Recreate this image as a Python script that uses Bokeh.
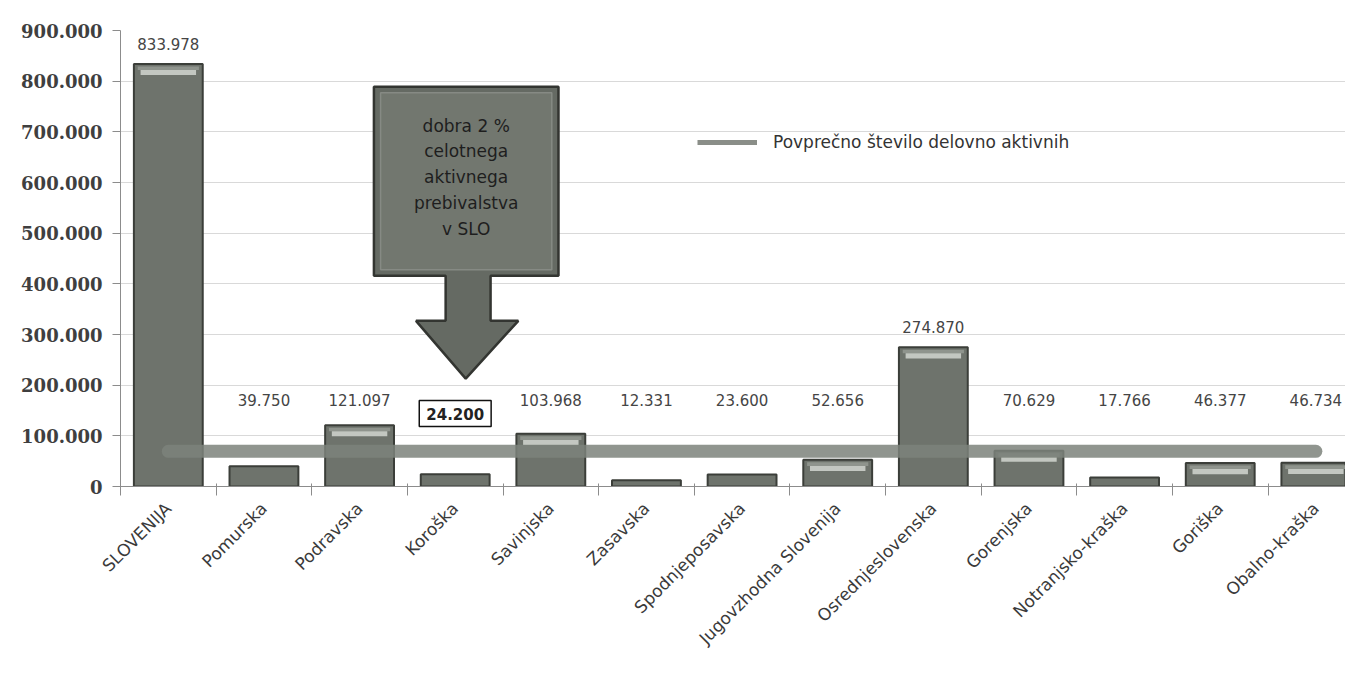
from bokeh.plotting import figure
from bokeh.models import (Range1d, FixedTicker, CustomJSTickFormatter, Legend, LegendItem,
                          Label, ColumnDataSource)
from bokeh.embed import file_html
from bokeh.resources import INLINE
from bokeh.core.properties import value
import math

# ---------------- data ----------------
regions = ["SLOVENIJA", "Pomurska", "Podravska", "Koroška", "Savinjska", "Zasavska",
           "Spodnjeposavska", "Jugovzhodna Slovenija", "Osrednjeslovenska", "Gorenjska",
           "Notranjsko-kraška", "Goriška", "Obalno-kraška"]
active = [833978, 39750, 121097, 24200, 103968, 12331, 23600, 52656, 274870, 70629,
          17766, 46377, 46734]
y_ticks = [0, 100000, 200000, 300000, 400000, 500000, 600000, 700000, 800000, 900000]
legend_text = "Povprečno število delovno aktivnih"
callout_lines = ["dobra 2 %", "celotnega", "aktivnega", "prebivalstva", "v SLO"]
highlight_region = "Koroška"

# ---------------- derived ----------------
n = len(regions)
centers = [i + 0.5 for i in range(n)]
avg = sum(active[1:]) / len(active[1:])

def fmt(v):
    return f"{v:,}".replace(",", ".")

W, H = 1345, 686
p = figure(width=W, height=H, output_backend="svg", toolbar_location=None,
           x_range=Range1d(0, 12.81), y_range=Range1d(0, 900000))
p.min_border_left = 120
p.min_border_right = 0
p.min_border_top = 30
p.min_border_bottom = 200
p.outline_line_color = None
p.background_fill_color = "white"

# grid
p.xgrid.grid_line_color = None
p.ygrid.grid_line_color = "#d9d9d9"
p.ygrid.ticker = FixedTicker(ticks=y_ticks)

# y axis
p.yaxis.ticker = FixedTicker(ticks=y_ticks)
p.yaxis.formatter = CustomJSTickFormatter(code="""
    if (tick == 0) return "0";
    return (tick/1000).toFixed(0) + ".000";
""")
p.yaxis.axis_line_color = "#8c8c8c"
p.yaxis.major_tick_line_color = "#8c8c8c"
p.yaxis.major_tick_out = 8
p.yaxis.major_tick_in = 0
p.yaxis.minor_tick_line_color = None
p.yaxis.major_label_text_font = "DejaVu Serif"
p.yaxis.major_label_text_font_style = "bold"
p.yaxis.major_label_text_font_size = "18px"
p.yaxis.major_label_text_color = "#3f3f3f"
p.yaxis.major_label_standoff = 10

# x axis
p.xaxis.ticker = FixedTicker(ticks=centers, minor_ticks=[float(i) for i in range(n + 1)])
p.xaxis.formatter = CustomJSTickFormatter(args=dict(names=regions), code="""
    return names[Math.floor(tick)];
""")
p.xaxis.major_label_orientation = math.pi / 4
p.xaxis.major_tick_line_color = None
p.xaxis.minor_tick_line_color = "#8c8c8c"
p.xaxis.minor_tick_out = 9
p.xaxis.minor_tick_in = 3
p.xaxis.axis_line_color = "#8c8c8c"
p.xaxis.major_label_text_font = "DejaVu Sans"
p.xaxis.major_label_text_font_size = "17px"
p.xaxis.major_label_text_color = "#3a3a3a"
p.xaxis.major_label_standoff = 10

# bars
src = ColumnDataSource(dict(x=centers, top=active))
p.vbar(x="x", top="top", width=0.72, source=src, fill_color="#6e736c",
       line_color="#3b3e39", line_width=2)
# bevel highlight (light band near bar top)
hx, htop, hbot = [], [], []
for c, v in zip(centers, active):
    if v > 40000:
        hx.append(c); htop.append(v - 12000); hbot.append(v - 22000)
p.vbar(x=hx, top=[t + 7000 for t in htop], bottom=htop, width=0.64,
       fill_color="#8f948d", line_color=None)
p.vbar(x=hx, top=htop, bottom=hbot, width=0.58, fill_color="#c3c7c1",
       line_color=None)

# average line
avg_r = p.line(x=[centers[0], centers[-1]], y=[avg, avg], line_width=13,
               line_color="#7d827b", line_alpha=0.85, line_cap="round")

# value labels
lab_x, lab_y, lab_t = [], [], []
for c, v, r in zip(centers, active, regions):
    if r == highlight_region:
        continue
    lab_x.append(c); lab_y.append(max(v + 40000, 170000)); lab_t.append(fmt(v))
p.text(x=lab_x, y=lab_y, text=lab_t, text_align="center", text_baseline="middle",
       text_font=value("DejaVu Sans"), text_font_size="15px", text_color="#454545")

hi = regions.index(highlight_region)
p.add_layout(Label(x=centers[hi], y=144000, text=fmt(active[hi]), text_align="center",
                   text_baseline="middle", text_font="DejaVu Sans",
                   text_font_size="15px", text_font_style="bold", text_color="#222222",
                   border_line_color="#111111", border_line_width=1.5,
                   background_fill_color="white", padding=7))

# callout arrow
bx0, bx1, by0, by1 = 2.65, 4.58, 416000, 789000
sx0, sx1, sy = 3.40, 3.87, 327000
hx0, hx1, tipx, tipy = 3.09, 4.16, 3.61, 213000
px_ = [bx0, bx1, bx1, sx1, sx1, hx1, tipx, hx0, sx0, sx0, bx0]
py_ = [by1, by1, by0, by0, sy, sy, tipy, sy, sy, by0, by0]
p.patch(px_, py_, fill_color="#656a63", line_color="#333531", line_width=2.5)
p.patch([bx0 + 0.07, bx1 - 0.07, bx1 - 0.07, bx0 + 0.07],
        [by1 - 12000, by1 - 12000, by0 + 12000, by0 + 12000],
        fill_color="#72776f", line_color="#868a84", line_width=1.5)
cy = (by0 + by1) / 2
nl = len(callout_lines)
step = 51000
for k, t in enumerate(callout_lines):
    p.add_layout(Label(x=(bx0 + bx1) / 2, y=cy + (nl / 2 - k - 0.5) * step + 8000,
                       text=t, text_align="center", text_baseline="middle",
                       text_font="DejaVu Sans", text_font_size="17px",
                       text_color="#1e1e1e"))

# legend (glyph carried by an off-screen line)
dummy = p.line(x=[-10, -9], y=[avg, avg], line_width=5, line_color="#8a8e88")
leg = Legend(items=[LegendItem(label=legend_text, renderers=[dummy])],
             location=(577, 334), orientation="horizontal")
leg.glyph_width = 60
leg.glyph_height = 20
leg.label_standoff = 16
leg.padding = 0
leg.margin = 0
leg.border_line_color = None
leg.background_fill_alpha = 0
leg.label_text_font = "DejaVu Sans"
leg.label_text_font_size = "17px"
leg.label_text_color = "#333333"
p.add_layout(leg)

open("out.html", "w").write(file_html(p, INLINE))
